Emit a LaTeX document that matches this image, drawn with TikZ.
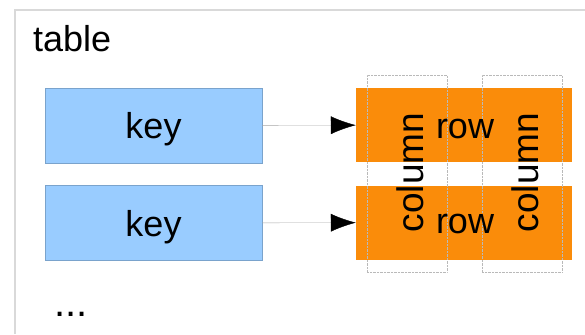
\documentclass[tikz,border=0pt]{standalone}
\usepackage{fontspec}
\setmainfont{Liberation Sans}
\usetikzlibrary{arrows.meta}
\definecolor{keyblue}{RGB}{153,204,255}
\definecolor{roworange}{RGB}{250,140,10}
\tikzset{
	bigtext/.style={font=\fontsize{36}{42}\selectfont, inner sep=0pt},
	keybox/.style={bigtext, draw=keyblue!80!black, fill=keyblue, minimum width=217pt, minimum height=75pt, text depth=0pt},
	rowbox/.style={fill=roworange, minimum width=216pt, minimum height=74pt, inner sep=0pt},
	colbox/.style={draw=gray!55, densely dotted, minimum width=80pt, minimum height=197pt, inner sep=0pt},
	link/.style={draw=gray!70, -{Latex[length=25pt,width=18pt,color=black]}}
}

\begin{document}
\begin{tikzpicture}[x=1pt,y=-1pt]
		%%%%% START %%%%%
		\useasboundingbox (0,0) rectangle (585,334);
		\draw[gray!30, line width=2pt] (15,334) -- (15,10) -- (585,10);
		
		\node[bigtext, anchor=base west] (title) at (33,52) {table};
		
		\node[keybox] (key1) at (153.5,125.5) {key};
		\node[keybox] (key2) at (153.5,223) {key};
		
		\node[rowbox] (row1) at (464,125) {};
		\node[rowbox] (row2) at (464,222.5) {};
		
		\node[colbox] (col1) at (407,173.5) {};
		\node[colbox] (col2) at (522,173.5) {};
		
		\node[bigtext] (rowtext1) at (465,129) {row};
		\node[bigtext] (rowtext2) at (465,224) {row};
		\node[bigtext, font=\fontsize{37}{42}\selectfont, rotate=90] (coltext1) at (410.5,172.5) {column};
		\node[bigtext, font=\fontsize{37}{42}\selectfont, rotate=90] (coltext2) at (525.5,172.5) {column};
		
		\draw[link] (key1) -- (row1);
		\draw[link] (key2) -- (row2);
		
		\node[bigtext, font=\fontsize{40}{42}\selectfont, anchor=base] (dots) at (71,316) {...};
		%%%%% END %%%%%
\end{tikzpicture}
\end{document}
